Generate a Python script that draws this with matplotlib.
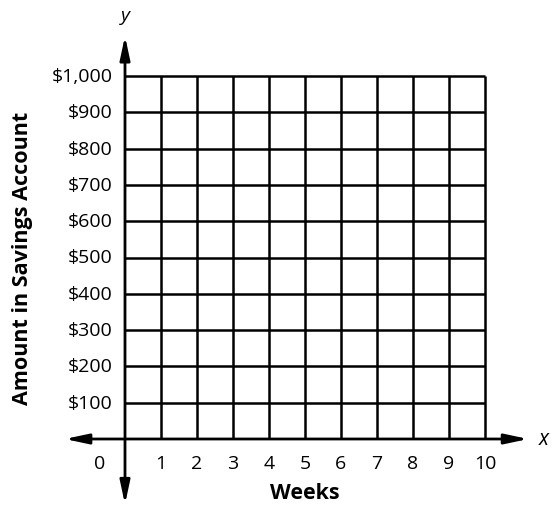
import matplotlib.pyplot as plt

weeks = list(range(0, 11))
amounts = list(range(0, 1001, 100))
week_labels = [str(w) for w in weeks]
amount_labels = ["", "$100", "$200", "$300", "$400", "$500",
                 "$600", "$700", "$800", "$900", "$1,000"]

plt.rcParams['font.family'] = ['Open Sans', 'DejaVu Sans']

fig = plt.figure(figsize=(5.6, 5.1), dpi=100)
ax = fig.add_axes([0, 0, 1, 1])
ax.set_xlim(-125 / 36, 435 / 36)
ax.set_ylim(-70 / 0.363, 440 / 0.363)
ax.axis("off")

# grid
for w in weeks[1:]:
    ax.plot([w, w], [0, amounts[-1]], color="black", lw=1.8, solid_capstyle="butt")
for a in amounts[1:]:
    ax.plot([0, weeks[-1]], [a, a], color="black", lw=1.8, solid_capstyle="butt")

# axes with arrows
arrow = dict(arrowstyle="<|-|>,head_length=1.4,head_width=0.3", color="black",
             lw=2, shrinkA=0, shrinkB=0)
ax.annotate("", xy=(11.2, 0), xytext=(-1.67, 0), arrowprops=arrow)
ax.annotate("", xy=(0, 1110), xytext=(0, -180), arrowprops=arrow)

ax.text(11.5, 0, "x", style="italic", fontsize=15, ha="left", va="center")
ax.text(0, 1168, "y", style="italic", fontsize=14, ha="center", va="center")

for w, lab in zip(weeks, week_labels):
    xpos = w - 0.7 if w == 0 else w
    ax.text(xpos, -65, lab, fontsize=14, ha="center", va="center")
for a, lab in zip(amounts, amount_labels):
    ax.text(-0.35, a, lab, fontsize=14, ha="right", va="center")

ax.text(5, -148, "Weeks", fontsize=15.5, fontweight="bold", ha="center", va="center")
ax.text(-2.85, 500, "Amount in Savings Account", fontsize=15.5, fontweight="bold",
        rotation=90, ha="center", va="center")

fig.savefig("out.png", dpi=100)
